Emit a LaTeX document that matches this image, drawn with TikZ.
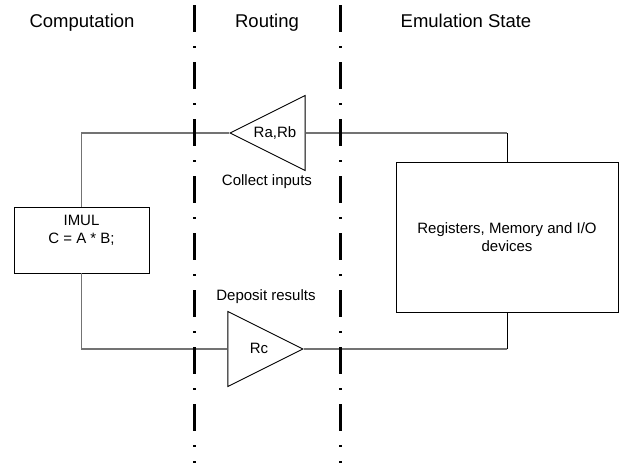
\documentclass[tikz,border=0pt]{standalone}
\usepackage{fontspec}
\setmainfont{Liberation Sans}
\usetikzlibrary{shapes.geometric,positioning}

\tikzset{
  divider/.style={line width=3pt, dash pattern=on 27pt off 14pt on 2pt off 14pt},
  wire/.style={draw=black!55, line width=1.2pt},
  link/.style={draw=black, line width=1pt},
  unit/.style={draw=black, line width=0.9pt, fill=white, inner sep=0pt},
  amp/.style={shape=isosceles triangle, isosceles triangle stretches, draw=black,
    line width=0.9pt, fill=white, minimum width=75pt, minimum height=75pt, inner sep=0pt},
  heading/.style={font=\fontsize{18.5}{22}\selectfont},
  lbl/.style={font=\fontsize{15}{18}\selectfont, align=center},
}

\begin{document}
\begin{tikzpicture}[x=1pt,y=-1pt]
\useasboundingbox (0,0) rectangle (619,467);

% Column headings
\node[heading, anchor=base] (hcomp) at (82,27) {Computation};
\node[heading, anchor=base] (hrout) at (267,27) {Routing};
\node[heading, anchor=base] (hemul) at (466,27) {Emulation State};

% Units
\node[unit, minimum width=135pt, minimum height=66pt] (imul) at (81.5,240) {};
\node[lbl, below=5pt of imul.north] (imultext) {IMUL\\C = A * B;};
\node[unit, lbl, minimum width=222pt, minimum height=150pt] (regs) at (507,237)
  {Registers, Memory and I/O\\devices};

% Routing triangles
\node[amp, shape border rotate=180, anchor=apex] (ra) at (229,133) {};
\node[amp, anchor=apex] (rc) at (304,349) {};
\node[lbl] (ratext) at (275,133) {Ra,Rb};
\node[lbl] (rctext) at (259,348) {Rc};
\node[lbl] (collect) at (267,182) {Collect inputs};
\node[lbl] (deposit) at (266,297) {Deposit results};

% Wires
\coordinate (ttop) at (regs.north |- ra.lower side);
\coordinate (tbot) at (regs.south |- rc.apex);
\draw[wire] (imul.north) |- (ra.apex);
\draw[wire] (ra.lower side) -- (ttop);
\draw[link] (ttop) -- (regs.north);
\draw[wire] (imul.south) |- (rc.lower side);
\draw[wire] (rc.apex) -- (tbot);
\draw[link] (tbot) -- (regs.south);

% Dividers
\coordinate (d1top) at (194,5);
\coordinate (d1bot) at (194,463);
\coordinate (d2top) at (340,5);
\coordinate (d2bot) at (340,463);
\draw[divider] (d1top) -- (d1bot);
\draw[divider] (d2top) -- (d2bot);

\end{tikzpicture}
\end{document}
